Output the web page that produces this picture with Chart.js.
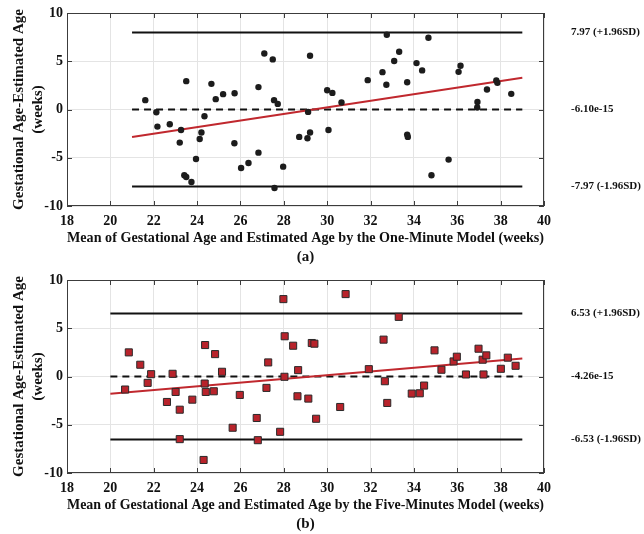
<!DOCTYPE html>
<html>
<head>
<meta charset="utf-8">
<script src="https://cdn.jsdelivr.net/npm/chart.js@4/dist/chart.umd.min.js"></script>
<style>
  html, body { margin: 0; padding: 0; background: #fff; }
  .panel { position: absolute; left: 0; width: 644px; height: 267px; }
  #chartA { top: 0; }
  #chartB { top: 267px; }
</style>
</head>
<body>
<div class="panel" id="chartA"><canvas id="canvasA" width="644" height="267"></canvas></div>
<div class="panel" id="chartB"><canvas id="canvasB" width="644" height="267"></canvas></div>
<script>
// axis ticks shared by both panels
const xTicks = [18, 20, 22, 24, 26, 28, 30, 32, 34, 36, 38, 40];
const yTicks = [-10, -5, 0, 5, 10];

// (a) one-minute model: mean of the two ages vs. difference
const meanA = [21.61, 22.12, 22.17, 22.74, 23.26, 23.5, 23.2, 23.41, 23.5, 23.74,
  23.95, 24.12, 24.2, 24.34, 24.66, 24.86, 25.2, 25.72, 25.73, 26.03,
  26.37, 26.83, 26.83, 27.1, 27.49, 27.55, 27.72, 27.57, 27.97, 28.71,
  29.09, 29.21, 29.12, 29.21, 30.0, 30.24, 30.06, 30.66, 31.87, 32.55,
  32.73, 32.75, 33.09, 33.32, 33.69, 33.69, 33.72, 34.12, 34.38, 34.67,
  34.81, 35.6, 36.06, 36.15, 36.93, 36.92, 37.37, 37.8, 37.85, 38.49];
const diffA = [0.97, -0.28, -1.77, -1.53, -2.12, 2.94, -3.43, -6.82, -7.0, -7.52,
  -5.13, -3.05, -2.39, -0.70, 2.66, 1.07, 1.59, -3.5, 1.69, -6.06,
  -5.54, -4.47, 2.32, 5.81, 5.19, 0.97, 0.58, -8.14, -5.92, -2.84,
  -2.98, -2.39, -0.25, 5.57, 2.0, 1.72, -2.12, 0.73, 3.04, 3.87,
  2.56, 7.75, 5.02, 5.98, 2.83, -2.6, -2.84, 4.81, 4.05, 7.44,
  -6.82, -5.19, 3.9, 4.53, 0.79, 0.21, 2.08, 3.01, 2.76, 1.62];
const limitsA = [7.97, -6.10e-15, -7.97];   // +1.96SD, mean, -1.96SD
const spanA = [21, 39];
const fitA = [-2.84, 3.28];                 // trend line at spanA ends

// (b) five-minutes model
const meanB = [20.68, 20.85, 21.38, 21.72, 21.88, 22.61, 22.87, 23.01, 23.2, 23.2,
  23.78, 24.3, 24.35, 24.37, 24.4, 24.77, 24.83, 25.15, 25.64, 25.97,
  26.75, 26.8, 27.2, 27.28, 27.83, 27.98, 28.03, 28.04, 28.43, 28.63,
  28.66, 29.13, 29.29, 29.41, 29.49, 30.6, 30.85, 31.92, 32.6, 32.66,
  32.77, 33.3, 33.9, 34.27, 34.47, 34.95, 35.27, 35.83, 35.98, 36.4,
  36.98, 37.17, 37.21, 37.34, 38.01, 38.33, 38.69];
const diffB = [-1.35, 2.5, 1.22, -0.66, 0.24, -2.64, 0.28, -1.6, -3.44, -6.49,
  -2.4, -8.65, -0.73, 3.26, -1.6, -1.53, 2.32, 0.49, -5.31, -1.91,
  -4.3, -6.6, -1.18, 1.46, -5.73, 8.02, -0.03, 4.17, 3.19, -2.05,
  0.66, -2.29, 3.47, 3.4, -4.38, -3.16, 8.54, 0.76, 3.82, -0.49,
  -2.74, 6.18, -1.77, -1.74, -0.94, 2.71, 0.7, 1.56, 2.05, 0.21,
  2.88, 1.74, 0.21, 2.19, 0.8, 1.95, 1.11];
const limitsB = [6.53, -4.26e-15, -6.53];
const spanB = [20, 39];
const fitB = [-1.8, 1.87];

const FONT = "'Liberation Serif', 'Times New Roman', serif";
const AXIS_COLOR = '#3c3c3c';

// box round the plot with inward ticks, plus the limit labels on the right
const boxPlugin = {
  id: 'box',
  afterDraw(chart, args, opts) {
    const {ctx, chartArea: a, scales: {x, y}} = chart;
    ctx.save();
    ctx.strokeStyle = AXIS_COLOR;
    ctx.lineWidth = 1;
    ctx.strokeRect(a.left + 0.5, a.top + 0.5, a.right - a.left - 1, a.bottom - a.top - 1);
    ctx.beginPath();
    xTicks.forEach(v => {
      const px = Math.round(x.getPixelForValue(v)) + 0.5;
      ctx.moveTo(px, a.bottom); ctx.lineTo(px, a.bottom - 5);
      ctx.moveTo(px, a.top); ctx.lineTo(px, a.top + 5);
    });
    yTicks.forEach(v => {
      const py = Math.round(y.getPixelForValue(v)) + 0.5;
      ctx.moveTo(a.left, py); ctx.lineTo(a.left + 5, py);
      ctx.moveTo(a.right, py); ctx.lineTo(a.right - 5, py);
    });
    ctx.stroke();

    const [hi, mid, lo] = opts.limits;
    const labels = [
      [hi, hi.toFixed(2) + ' (+1.96SD)'],
      [mid, mid.toExponential(2)],
      [lo, lo.toFixed(2) + ' (-1.96SD)']
    ];
    ctx.fillStyle = '#111';
    ctx.font = 'bold 11px ' + FONT;
    ctx.textAlign = 'left';
    ctx.textBaseline = 'middle';
    labels.forEach(([v, t]) => ctx.fillText(t, a.right + 27, y.getPixelForValue(v)));
    ctx.restore();
  }
};

function hline(span, v) {
  return span.map(s => ({x: s, y: v}));
}

function makeChart(id, mean, diff, limits, span, fit, xTitle, tag, red) {
  const points = mean.map((m, i) => ({x: m, y: diff[i]}));
  const marker = red
    ? {pointStyle: 'rect', pointRadius: 5, backgroundColor: '#b8232b', borderColor: '#2a2a2a', borderWidth: 1}
    : {pointStyle: 'circle', pointRadius: 3.2, backgroundColor: '#1c1c1c', borderColor: '#1c1c1c', borderWidth: 0};

  return new Chart(document.getElementById(id), {
    type: 'scatter',
    data: {
      datasets: [
        Object.assign({label: 'difference', data: points}, marker),
        {label: 'trend', data: span.map((s, i) => ({x: s, y: fit[i]})), showLine: true,
          borderColor: '#c0282e', borderWidth: 2, pointRadius: 0},
        {label: 'mean', data: hline(span, limits[1]), showLine: true,
          borderColor: '#111', borderWidth: 2, borderDash: [7, 5], pointRadius: 0},
        {label: 'upper', data: hline(span, limits[0]), showLine: true,
          borderColor: '#111', borderWidth: 2, pointRadius: 0},
        {label: 'lower', data: hline(span, limits[2]), showLine: true,
          borderColor: '#111', borderWidth: 2, pointRadius: 0}
      ]
    },
    options: {
      responsive: false,
      animation: false,
      layout: {padding: {left: 8, right: 100, top: 13, bottom: 0}},
      plugins: {
        legend: {display: false},
        tooltip: {enabled: false},
        box: {limits: limits}
      },
      scales: {
        x: {
          type: 'linear', min: 18, max: 40,
          afterBuildTicks: s => { s.ticks = xTicks.map(v => ({value: v})); },
          afterFit: s => { s.height = 61; },
          grid: {color: '#e4e4e4', drawTicks: false},
          border: {display: false},
          ticks: {color: '#111', padding: 7, font: {family: FONT, size: 14, weight: 'bold'}},
          title: {display: true, text: [xTitle, tag], color: '#111', padding: {top: 0, bottom: 0},
            font: {family: FONT, size: 15, weight: 'bold', lineHeight: 1.27}}
        },
        y: {
          type: 'linear', min: -10, max: 10,
          afterBuildTicks: s => { s.ticks = yTicks.map(v => ({value: v})); },
          afterFit: s => { s.width = 59; },
          grid: {color: '#e4e4e4', drawTicks: false},
          border: {display: false},
          ticks: {color: '#111', padding: 4, font: {family: FONT, size: 14, weight: 'bold'}},
          title: {display: true, text: ['Gestational Age-Estimated Age', '(weeks)'], color: '#111',
            padding: {top: 2, bottom: 0},
            font: {family: FONT, size: 15, weight: 'bold', lineHeight: 1.27}}
        }
      }
    },
    plugins: [boxPlugin]
  });
}

makeChart('canvasA', meanA, diffA, limitsA, spanA, fitA,
  'Mean of Gestational Age and Estimated Age by the One-Minute Model (weeks)', '(a)', false);
makeChart('canvasB', meanB, diffB, limitsB, spanB, fitB,
  'Mean of Gestational Age and Estimated Age by the Five-Minutes Model (weeks)', '(b)', true);
</script>
</body>
</html>
